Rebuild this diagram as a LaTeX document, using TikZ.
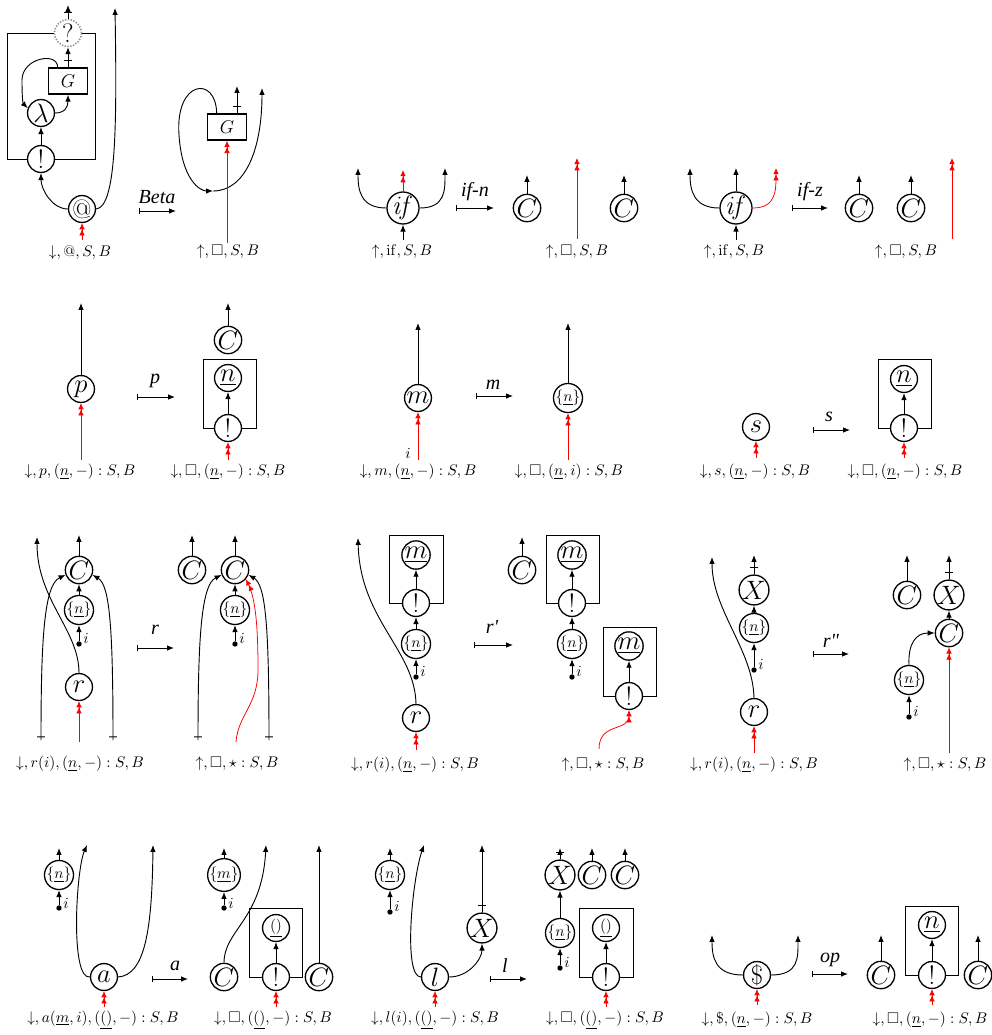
\documentclass[tikz,border=0pt]{standalone}
\usepackage{amssymb}
\usepackage[no-math]{fontspec}
\newfontfamily\rulefont{Liberation Serif}
\usetikzlibrary{arrows.meta,decorations.markings}
\begin{document}
\begin{tikzpicture}[x=0.65pt,y=-0.65pt,
    cell/.style={draw,circle,line width=.85pt,fill=white,inner sep=0pt,minimum size=17.5pt,font=\LARGE},
    smallcell/.style={cell,font=\normalsize},
    ghost/.style={cell,draw=black!45,densely dotted,line width=1pt},
    gbox/.style={draw,line width=.85pt,fill=white,minimum width=25pt,minimum height=17pt,font=\large},
    boxline/.style={line width=.6pt},
    wire/.style={line width=.6pt,-{Latex[length=4.5pt,width=3.6pt]}},
    hot/.style={red,line width=.5pt,-{Latex[length=4pt,width=3.6pt]Latex[length=4pt,width=3.6pt]}},
    rewrite/.style={line width=.6pt,{Bar[width=4pt]}-{Latex[length=4.5pt,width=3.6pt]}},
    rulename/.style={font=\rulefont\itshape\fontsize{13}{15}\selectfont},
    statelbl/.style={font=\normalsize},
    ival/.style={font=\normalsize,inner sep=0pt},
    portdot/.style={fill,circle,inner sep=0pt,minimum size=3.5pt},
    barred/.style={postaction={decorate,decoration={markings,mark=at position #1 with {\draw[-,line width=.6pt] (0,-2.5pt)--(0,2.5pt);}}}}]
  \useasboundingbox (0,0) rectangle (991,1035);

  % ---- Beta ----
  \node[ghost] (aq) at (68,33) {?};
  \node[gbox] (ag) at (68,81) {$G$};
  \node[cell] (alam) at (41,113) {$\lambda$};
  \node[cell] (abang) at (41,159) {!};
  \node[cell] (aapp) at (82,209) {@};
  \coordinate (aout1) at (68,5);
  \coordinate (aout2) at (115,8);
  \coordinate (ain) at (82,240);
  \draw[boxline] (abang.west) -| (7,33) -- (aq.west);
  \draw[boxline] (aq.east) -| (95,159) -- (abang.east);
  \draw[wire,barred=4pt] (aq) -- (aout1);
  \draw[wire,barred=4.5pt] (ag) -- (aq);
  \draw[wire] (ag.127) .. controls +(0,-16) and +(0,-22) .. (22,80) .. controls +(0,16) and +(-5,-5) .. (alam.160);
  \draw[wire] (alam.east) .. controls +(10,0) and +(0,12) .. (ag.south);
  \draw[wire] (abang) -- (alam);
  \draw[wire] (aapp.west) .. controls +(-16,0) and +(0,16) .. (abang.south);
  \draw[wire] (aapp.east) .. controls +(20,-2) and +(2,120) .. (aout2);
  \draw[hot] (ain) -- (aapp);
  \node[statelbl] (alab) at (80,253) {$\downarrow, @, S, B$};

  \coordinate (betas) at (139,211);
  \coordinate (betae) at (176,211);
  \draw[rewrite] (betas) -- (betae);
  \node[rulename] (betan) at (157,197) {Beta};

  \node[gbox] (bg) at (227,127) {$G$};
  \coordinate (bout) at (237,86);
  \coordinate (bmid) at (213,191);
  \coordinate (bout2) at (262,88);
  \coordinate (bin) at (227,243);
  \draw[wire,barred=4.5pt] (bg.north -| bout) -- (bout);
  \draw[wire] (bg.127) .. controls (216,75) and (175,80) .. (179,135) .. controls (182,180) and (200,191) .. (bmid);
  \draw[wire] (bmid) .. controls (245,191) and (262,150) .. (bout2);
  \draw[hot] (bin) -- (bg);
  \node[statelbl] (blab) at (228,252) {$\uparrow, \square, S, B$};

  % ---- if-n ----
  \node[cell] (cif) at (403,208) {$\mathit{if}$};
  \coordinate (cl) at (358,168);
  \coordinate (cr) at (445,168);
  \coordinate (cup) at (403,170);
  \coordinate (cin) at (403,240);
  \draw[wire] (cif.west) .. controls +(-26,0) and +(0,22) .. (cl);
  \draw[wire] (cif.east) .. controls +(26,0) and +(0,22) .. (cr);
  \draw[hot] (cif) -- (cup);
  \draw[wire] (cin) -- (cif);
  \node[statelbl] (clab) at (402,252) {$\uparrow, \mathrm{if}, S, B$};

  \coordinate (ifns) at (456,208);
  \coordinate (ifne) at (494,208);
  \draw[rewrite] (ifns) -- (ifne);
  \node[rulename] (ifnn) at (475,192) {if-n};

  \node[cell] (dc1) at (527,208) {$C$};
  \node[cell] (dc2) at (624,208) {$C$};
  \coordinate (dout1) at (527,175);
  \coordinate (dout2) at (624,175);
  \coordinate (din) at (577,239);
  \coordinate (dup) at (577,158);
  \draw[wire] (dc1) -- (dout1);
  \draw[wire] (dc2) -- (dout2);
  \draw[hot] (din) -- (dup);
  \node[statelbl] (dlab) at (577,252) {$\uparrow, \square, S, B$};

  % ---- if-z ----
  \node[cell] (eif) at (736,208) {$\mathit{if}$};
  \coordinate (el) at (690,168);
  \coordinate (eup) at (736,168);
  \coordinate (er) at (776,168);
  \coordinate (ein) at (736,240);
  \draw[wire] (eif.west) .. controls +(-26,0) and +(0,22) .. (el);
  \draw[wire] (eif) -- (eup);
  \draw[hot] (eif.east) .. controls +(24,0) and +(0,22) .. (er);
  \draw[wire] (ein) -- (eif);
  \node[statelbl] (elab) at (734,252) {$\uparrow, \mathrm{if}, S, B$};

  \coordinate (ifzs) at (792,208);
  \coordinate (ifze) at (828,208);
  \draw[rewrite] (ifzs) -- (ifze);
  \node[rulename] (ifzn) at (810,192) {if-z};

  \node[cell] (fc1) at (859,208) {$C$};
  \node[cell] (fc2) at (911,208) {$C$};
  \coordinate (fout1) at (859,175);
  \coordinate (fout2) at (911,175);
  \coordinate (fin) at (952,239);
  \coordinate (fup) at (952,158);
  \draw[wire] (fc1) -- (fout1);
  \draw[wire] (fc2) -- (fout2);
  \draw[hot] (fin) -- (fup);
  \node[statelbl] (flab) at (906,252) {$\uparrow, \square, S, B$};

  % ---- p ----
  \node[cell] (gp) at (81,389) {$p$};
  \coordinate (gout) at (81,303);
  \coordinate (gin) at (81,460);
  \draw[wire] (gp) -- (gout);
  \draw[hot] (gin) -- (gp);
  \node[statelbl] (glab) at (80,472) {$\downarrow, p, (\underline{n}, -) : S, B$};

  \coordinate (ps) at (137,397);
  \coordinate (pe) at (175,397);
  \draw[rewrite] (ps) -- (pe);
  \node[rulename] (pn) at (155,381) {p};

  \node[cell] (hc) at (228,340) {$C$};
  \node[cell] (hn) at (228,378) {$\underline{n}$};
  \node[cell] (hbang) at (228,428) {!};
  \coordinate (hout) at (228,303);
  \coordinate (hin) at (228,460);
  \draw[boxline] (hbang.west) -| (203,359) -| (256,428) -- (hbang.east);
  \draw[wire] (hc) -- (hout);
  \draw[wire] (hbang) -- (hn);
  \draw[hot] (hin) -- (hbang);
  \node[statelbl] (hlab) at (228,472) {$\downarrow, \square, (\underline{n}, -) : S, B$};

  % ---- m ----
  \node[cell] (im) at (418,398) {$m$};
  \coordinate (iout) at (418,323);
  \coordinate (iin) at (418,460);
  \draw[wire] (im) -- (iout);
  \draw[hot] (iin) -- (im);
  \node[ival] (ii) at (408,453) {$i$};
  \node[statelbl] (ilab) at (418,472) {$\downarrow, m, (\underline{n}, -) : S, B$};

  \coordinate (ms) at (476,396);
  \coordinate (me) at (513,396);
  \draw[rewrite] (ms) -- (me);
  \node[rulename] (mn) at (493,385) {m};

  \node[smallcell] (jn) at (568,398) {$\{\underline{n}\}$};
  \coordinate (jout) at (568,323);
  \coordinate (jin) at (568,460);
  \draw[wire] (jn) -- (jout);
  \draw[hot] (jin) -- (jn);
  \node[statelbl] (jlab) at (569,472) {$\downarrow, \square, (\underline{n}, i) : S, B$};

  % ---- s ----
  \node[cell] (ks) at (756,427) {$s$};
  \coordinate (kin) at (756,458);
  \draw[hot] (kin) -- (ks);
  \node[statelbl] (klab) at (755,472) {$\downarrow, s, (\underline{n}, -) : S, B$};

  \coordinate (ss) at (813,430);
  \coordinate (se) at (850,430);
  \draw[rewrite] (ss) -- (se);
  \node[rulename] (sn) at (829,417) {s};

  \node[cell] (ln) at (904,379) {$\underline{n}$};
  \node[cell] (lbang) at (904,428) {!};
  \coordinate (lin) at (904,458);
  \draw[boxline] (lbang.west) -| (878,359) -| (931,428) -- (lbang.east);
  \draw[wire] (lbang) -- (ln);
  \draw[hot] (lin) -- (lbang);
  \node[statelbl] (llab) at (905,472) {$\downarrow, \square, (\underline{n}, -) : S, B$};

  % ---- r ----
  \node[cell] (mc) at (79,570) {$C$};
  \node[smallcell] (mnn) at (79,610) {$\{\underline{n}\}$};
  \node[portdot] (mdot) at (79,644) {};
  \node[ival] (mi) at (86,638) {$i$};
  \node[cell] (mr) at (79,687) {$r$};
  \coordinate (mout) at (79,535);
  \coordinate (mtl) at (37,537);
  \coordinate (mbl) at (41,740);
  \coordinate (mbr) at (113,740);
  \coordinate (min) at (79,742);
  \draw[wire] (mc) -- (mout);
  \draw[wire] (mnn) -- (mc);
  \draw[wire] (mdot) -- (mnn);
  \draw[wire] (mr.north) .. controls (79,630) and (37,600) .. (mtl);
  \draw[wire,barred=2pt] (mbl) .. controls (41,640) and (44,585) .. (mc.200);
  \draw[wire,barred=2pt] (mbr) .. controls (113,630) and (110,585) .. (mc.340);
  \draw[hot] (min) -- (mr);
  \node[statelbl] (mlab) at (80,764) {$\downarrow, r(i), (\underline{n}, -) : S, B$};

  \coordinate (rs) at (137,648);
  \coordinate (re) at (174,648);
  \draw[rewrite] (rs) -- (re);
  \node[rulename] (rn) at (155,630) {r};

  \node[cell] (nc1) at (192,570) {$C$};
  \node[cell] (nc2) at (235,570) {$C$};
  \node[smallcell] (nn) at (235,610) {$\{\underline{n}\}$};
  \node[portdot] (ndot) at (235,644) {};
  \node[ival] (ni) at (242,638) {$i$};
  \coordinate (nout1) at (192,535);
  \coordinate (nout2) at (235,535);
  \coordinate (nbl) at (198,740);
  \coordinate (nbr) at (269,740);
  \coordinate (nin) at (236,742);
  \draw[wire] (nc1) -- (nout1);
  \draw[wire] (nc2) -- (nout2);
  \draw[wire] (nn) -- (nc2);
  \draw[wire] (ndot) -- (nn);
  \draw[wire,barred=2pt] (nbl) .. controls (198,640) and (201,585) .. (nc2.200);
  \draw[wire,barred=2pt] (nbr) .. controls (269,630) and (266,585) .. (nc2.340);
  \draw[hot] (nin) .. controls (238,715) and (258,705) .. (258,670) .. controls (258,630) and (256,600) .. (nc2.-40);
  \node[statelbl] (nlab) at (237,764) {$\uparrow, \square, \star : S, B$};

  % ---- r' ----
  \node[cell] (om) at (416,555) {$\underline{m}$};
  \node[cell] (obang) at (416,603) {!};
  \node[smallcell] (on) at (416,644) {$\{\underline{n}\}$};
  \node[portdot] (odot) at (416,677) {};
  \node[ival] (oi) at (423,671) {$i$};
  \node[cell] (or) at (416,718) {$r$};
  \coordinate (otl) at (358,538);
  \coordinate (oin) at (416,750);
  \draw[boxline] (obang.west) -| (389,535) -| (443,603) -- (obang.east);
  \draw[wire] (obang) -- (om);
  \draw[wire] (on) -- (obang);
  \draw[wire] (odot) -- (on);
  \draw[wire] (or.north) .. controls (415,650) and (360,620) .. (otl);
  \draw[hot] (oin) -- (or);
  \node[statelbl] (olab) at (415,765) {$\downarrow, r(i), (\underline{n}, -) : S, B$};

  \coordinate (r1s) at (474,645);
  \coordinate (r1e) at (513,645);
  \draw[rewrite] (r1s) -- (r1e);
  \node[rulename] (r1n) at (492,627) {r\textquotesingle};

  \node[cell] (pc) at (522,570) {$C$};
  \node[cell] (pm) at (572,555) {$\underline{m}$};
  \node[cell] (pbang) at (572,603) {!};
  \node[smallcell] (pn2) at (572,644) {$\{\underline{n}\}$};
  \node[portdot] (pdot) at (572,677) {};
  \node[ival] (pi) at (579,671) {$i$};
  \node[cell] (pm2) at (629,646) {$\underline{m}$};
  \node[cell] (pbang2) at (629,696) {!};
  \coordinate (pout) at (522,537);
  \coordinate (pred) at (599,749);
  \draw[boxline] (pbang.west) -| (546,535) -| (599,603) -- (pbang.east);
  \draw[boxline] (pbang2.west) -| (603,627) -| (656,696) -- (pbang2.east);
  \draw[wire] (pc) -- (pout);
  \draw[wire] (pbang) -- (pm);
  \draw[wire] (pn2) -- (pbang);
  \draw[wire] (pdot) -- (pn2);
  \draw[wire] (pbang2) -- (pm2);
  \draw[hot] (pred) .. controls (599,722) and (629,732) .. (pbang2.south);
  \node[statelbl] (plab) at (603,765) {$\uparrow, \square, \star : S, B$};

  % ---- r" ----
  \node[cell] (qx) at (754,590) {$X$};
  \node[smallcell] (qn) at (754,628) {$\{\underline{n}\}$};
  \node[portdot] (qdot) at (754,670) {};
  \node[ival] (qi) at (761,664) {$i$};
  \node[cell] (qr) at (754,712) {$r$};
  \coordinate (qout) at (754,555);
  \coordinate (qtl) at (712,557);
  \coordinate (qin) at (754,753);
  \draw[wire,barred=4.5pt] (qx) -- (qout);
  \draw[wire] (qn) -- (qx);
  \draw[wire] (qdot) -- (qn);
  \draw[wire] (qr.north) .. controls (753,650) and (712,610) .. (qtl);
  \draw[hot] (qin) -- (qr);
  \node[statelbl] (qlab) at (754,765) {$\downarrow, r(i), (\underline{n}, -) : S, B$};

  \coordinate (r2s) at (813,654);
  \coordinate (r2e) at (849,654);
  \draw[rewrite] (r2s) -- (r2e);
  \node[rulename] (r2n) at (831,641) {r\textquotedbl};

  \node[cell] (rc1) at (907,595) {$C$};
  \node[cell] (rx) at (949,595) {$X$};
  \node[cell] (rc2) at (949,633) {$C$};
  \node[smallcell] (rn2) at (909,680) {$\{\underline{n}\}$};
  \node[portdot] (rdot) at (909,717) {};
  \node[ival] (ri) at (916,711) {$i$};
  \coordinate (rout1) at (907,555);
  \coordinate (rout2) at (949,555);
  \coordinate (rin) at (949,753);
  \draw[wire] (rc1) -- (rout1);
  \draw[wire,barred=4.5pt] (rx) -- (rout2);
  \draw[wire] (rc2) -- (rx);
  \draw[wire] (rdot) -- (rn2);
  \draw[wire] (rn2.north) .. controls (908,645) and (915,633) .. (rc2.west);
  \draw[hot] (rin) -- (rc2);
  \node[statelbl] (rlab) at (945,765) {$\uparrow, \square, \star : S, B$};

  % ---- a ----
  \node[smallcell] (sn2) at (59,875) {$\{\underline{n}\}$};
  \node[portdot] (sdot) at (59,908) {};
  \node[ival] (si) at (66,903) {$i$};
  \node[cell] (sa) at (104,977) {$a$};
  \coordinate (sout) at (59,848);
  \coordinate (stl) at (87,845);
  \coordinate (str) at (153,845);
  \coordinate (sin) at (104,1007);
  \draw[wire] (sn2) -- (sout);
  \draw[wire] (sdot) -- (sn2);
  \draw[wire] (sa.west) .. controls (70,980) and (76,870) .. (stl);
  \draw[wire] (sa.east) .. controls (145,975) and (152,930) .. (str);
  \draw[hot] (sin) -- (sa);
  \node[statelbl] (slab) at (103,1020) {$\downarrow, a(\underline{m}, i), (\underline{()}, -) : S, B$};

  \coordinate (as) at (152,979);
  \coordinate (ae) at (188,979);
  \draw[rewrite] (as) -- (ae);
  \node[rulename] (an) at (175,966) {a};

  \node[smallcell] (tm) at (224,875) {$\{\underline{m}\}$};
  \node[portdot] (tdot) at (224,908) {};
  \node[ival] (ti) at (231,903) {$i$};
  \node[cell] (tc) at (224,977) {$C$};
  \node[smallcell] (tu) at (276,928) {$\underline{()}$};
  \node[cell] (tbang) at (276,977) {!};
  \node[cell] (tc2) at (319,977) {$C$};
  \coordinate (tout) at (224,848);
  \coordinate (ttop) at (266,845);
  \coordinate (ttop2) at (319,845);
  \coordinate (tin) at (276,1007);
  \draw[boxline] (tbang.west) -| (249,908) -| (302,977) -- (tbang.east);
  \draw[wire] (tm) -- (tout);
  \draw[wire] (tdot) -- (tm);
  \draw[wire] (tc.north) .. controls (224,930) and (262,920) .. (ttop);
  \draw[wire] (tbang) -- (tu);
  \draw[wire] (tc2) -- (ttop2);
  \draw[hot] (tin) -- (tbang);
  \node[statelbl] (tlab) at (273,1020) {$\downarrow, \square, (\underline{()}, -) : S, B$};

  % ---- l ----
  \node[smallcell] (un) at (390,875) {$\{\underline{n}\}$};
  \node[portdot] (udot) at (390,912) {};
  \node[ival] (ui) at (397,906) {$i$};
  \node[cell] (ul) at (435,977) {$l$};
  \node[cell] (ux) at (482,928) {$X$};
  \coordinate (uout) at (390,848);
  \coordinate (utl) at (424,845);
  \coordinate (uout2) at (482,845);
  \coordinate (uin) at (435,1007);
  \draw[wire] (un) -- (uout);
  \draw[wire] (udot) -- (un);
  \draw[wire] (ul.west) .. controls (403,977) and (412,880) .. (utl);
  \draw[wire] (ul.east) .. controls +(20,0) and +(0,15) .. (ux.south);
  \draw[wire,barred=4.5pt] (ux) -- (uout2);
  \draw[hot] (uin) -- (ul);
  \node[statelbl] (ulab) at (435,1020) {$\downarrow, l(i), (\underline{()}, -) : S, B$};

  \coordinate (ls) at (490,979);
  \coordinate (le) at (527,979);
  \draw[rewrite] (ls) -- (le);
  \node[rulename] (lnn) at (505,966) {l};

  \node[cell] (vx) at (560,875) {$X$};
  \node[cell] (vc1) at (592,875) {$C$};
  \node[cell] (vc2) at (625,875) {$C$};
  \node[smallcell] (vn) at (560,933) {$\{\underline{n}\}$};
  \node[portdot] (vdot) at (560,968) {};
  \node[ival] (vi) at (567,962) {$i$};
  \node[smallcell] (vu) at (606,928) {$\underline{()}$};
  \node[cell] (vbang) at (606,977) {!};
  \coordinate (vout1) at (560,848);
  \coordinate (vout2) at (592,848);
  \coordinate (vout3) at (625,848);
  \coordinate (vin) at (606,1007);
  \draw[boxline] (vbang.west) -| (579,908) -| (633,977) -- (vbang.east);
  \draw[wire,barred=4.5pt] (vx) -- (vout1);
  \draw[wire] (vc1) -- (vout2);
  \draw[wire] (vc2) -- (vout3);
  \draw[wire] (vn) -- (vx);
  \draw[wire] (vdot) -- (vn);
  \draw[wire] (vbang) -- (vu);
  \draw[hot] (vin) -- (vbang);
  \node[statelbl] (vlab) at (605,1020) {$\downarrow, \square, (\underline{()}, -) : S, B$};

  % ---- op ----
  \node[cell] (wd) at (757,975) {\$};
  \coordinate (wl) at (712,935);
  \coordinate (wr) at (798,935);
  \coordinate (win) at (757,1005);
  \draw[wire] (wd.west) .. controls +(-28,0) and +(0,22) .. (wl);
  \draw[wire] (wd.east) .. controls +(28,0) and +(0,22) .. (wr);
  \draw[hot] (win) -- (wd);
  \node[statelbl] (wlab) at (757,1020) {$\downarrow, \$, (\underline{n}, -) : S, B$};

  \coordinate (ops) at (812,974);
  \coordinate (ope) at (848,974);
  \draw[rewrite] (ops) -- (ope);
  \node[rulename] (opn) at (830,960) {op};

  \node[cell] (xc1) at (881,975) {$C$};
  \node[cell] (xn) at (932,925) {$\underline{n}$};
  \node[cell] (xbang) at (932,975) {!};
  \node[cell] (xc2) at (978,975) {$C$};
  \coordinate (xout1) at (881,935);
  \coordinate (xout2) at (978,935);
  \coordinate (xin) at (932,1005);
  \draw[boxline] (xbang.west) -| (905,906) -| (958,975) -- (xbang.east);
  \draw[wire] (xc1) -- (xout1);
  \draw[wire] (xc2) -- (xout2);
  \draw[wire] (xbang) -- (xn);
  \draw[hot] (xin) -- (xbang);
  \node[statelbl] (xlab) at (930,1020) {$\downarrow, \square, (\underline{n}, -) : S, B$};
\end{tikzpicture}
\end{document}
